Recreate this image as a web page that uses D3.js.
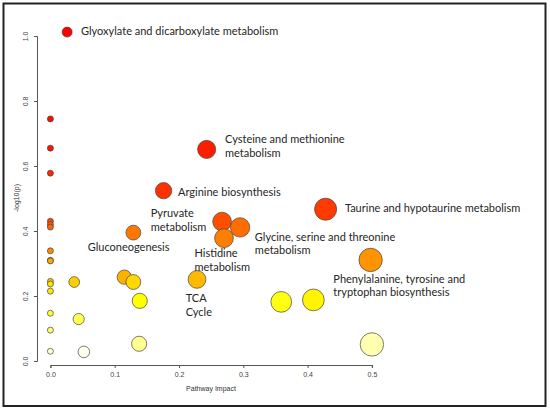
<!DOCTYPE html>
<html>
<head>
<meta charset="utf-8">
<script src="https://cdn.jsdelivr.net/npm/d3@7"></script>
<style>
  body { margin: 0; background: #fff; }
  .lbl { font-family: Lato, "Open Sans", sans-serif; font-size: 11px; fill: #262626; }
  .tick text { font-family: "Liberation Sans", Arial, sans-serif; font-size: 7px; fill: #444; }
  .axis path, .axis line { stroke: #555; }
</style>
</head>
<body>
<div id="chart"></div>
<script>
// Pathway impact (x) and -log10(p) (y)
var impact = [0.026, 0, 0, 0.243, 0, 0.176, 0.428, 0, 0.267, 0, 0, 0.295, 0.129, 0.270,
    0, 0.498, 0, 0, 0.115, 0.228, 0, 0.037, 0.129, 0, 0, 0.409, 0.139, 0.359,
    0, 0.044, 0, 0.138, 0.5, 0, 0.052];
var logp = [1.012, 0.745, 0.655, 0.651, 0.578, 0.524, 0.467, 0.430, 0.429, 0.420, 0.412, 0.411, 0.395, 0.378,
    0.339, 0.311, 0.310, 0.308, 0.258, 0.251, 0.245, 0.243, 0.243, 0.237, 0.215, 0.188, 0.185, 0.182,
    0.147, 0.129, 0.095, 0.053, 0.051, 0.030, 0.028];

var xTicks = [0, 0.1, 0.2, 0.3, 0.4, 0.5];
var yTicks = [0, 0.2, 0.4, 0.6, 0.8, 1.0];

// Annotations: text lines and anchor (in data units)
var labelLines = [
    ["Glyoxylate and dicarboxylate metabolism"],
    ["Cysteine and methionine", "metabolism"],
    ["Arginine biosynthesis"],
    ["Pyruvate", "metabolism"],
    ["Gluconeogenesis"],
    ["Histidine", "metabolism"],
    ["Glycine, serine and threonine", "metabolism"],
    ["Taurine and hypotaurine metabolism"],
    ["TCA", "Cycle"],
    ["Phenylalanine, tyrosine and", "tryptophan biosynthesis"]
];
var labelAt = [
    [0.0476, 1.003], [0.2715, 0.670], [0.1985, 0.508], [0.156, 0.442], [0.058, 0.338],
    [0.224, 0.319], [0.318, 0.370], [0.458, 0.459], [0.2104, 0.181], [0.440, 0.241]
];

var svgWidth = 550;
var svgHeight = 410;

var svg = d3.select("#chart")
    .append("svg")
    .attr("width", svgWidth)
    .attr("height", svgHeight);

// Outer frame
svg.append("rect")
    .attr("x", 3.5).attr("y", 3.5)
    .attr("width", 542).attr("height", 402.5)
    .attr("fill", "none")
    .attr("stroke", "#222")
    .attr("stroke-width", 2);

// Scales
var xScale = d3.scaleLinear().domain([0, 0.5]).range([50.4, 371.9]);
var yScale = d3.scaleLinear().domain([0, 1]).range([361, 36]);
// circle size grows with sqrt of impact, from a minimum size
var rScale = d3.scaleLinear().domain([0, Math.sqrt(0.5)]).range([3, 11.7]);

// R heat.colors by rank
var n = logp.length;
var j = Math.floor(n / 4);
var i = n - j;
var hot = d3.scaleLinear().domain([0, i - 1]).range(["#ff0000", "#ffff00"]);
var pale = d3.scaleLinear().domain([i, n - 1])
    .range([d3.rgb(255, 255, 255 / (2 * j)), d3.rgb(255, 255, 255 * (1 - 1 / (2 * j)))]);
var order = d3.range(n).sort((a, b) => logp[b] - logp[a]);
var rank = [];
order.forEach((k, r) => rank[k] = r);
function heat(k) { return rank[k] < i ? hot(rank[k]) : pale(rank[k]); }

// Axes
var xAxis = svg.append("g")
    .attr("class", "axis")
    .attr("transform", "translate(0, 365)")
    .call(d3.axisBottom(xScale).tickValues(xTicks).tickFormat(d3.format(".1f")).tickSizeOuter(0).tickSize(3).tickPadding(4));

var yAxis = svg.append("g")
    .attr("class", "axis")
    .attr("transform", "translate(37, 0)")
    .call(d3.axisLeft(yScale).tickValues(yTicks).tickFormat(d3.format(".1f")).tickSizeOuter(0).tickSize(3));

yAxis.selectAll(".tick text")
    .attr("x", 0).attr("dy", 0)
    .attr("text-anchor", "middle")
    .attr("transform", "translate(-9, 0) rotate(-90)");

// Axis titles
svg.append("text")
    .attr("x", 211).attr("y", 391)
    .attr("text-anchor", "middle")
    .style("font-family", "Liberation Sans, Arial, sans-serif")
    .style("font-size", "7px")
    .attr("fill", "#333")
    .text("Pathway Impact");

svg.append("text")
    .attr("transform", "translate(19, 198) rotate(-90)")
    .attr("text-anchor", "middle")
    .style("font-family", "Liberation Sans, Arial, sans-serif")
    .style("font-size", "7px")
    .attr("fill", "#333")
    .text("-log10(p)");

// Circles, drawn from most to least significant
svg.append("g").selectAll("circle")
    .data(order)
    .enter()
    .append("circle")
    .attr("cx", k => xScale(impact[k]))
    .attr("cy", k => yScale(logp[k]))
    .attr("r", k => rScale(Math.sqrt(impact[k])))
    .attr("fill", k => heat(k))
    .attr("stroke", "#444")
    .attr("stroke-width", 0.7);

// Labels
var labels = svg.append("g").selectAll("text")
    .data(labelLines)
    .enter()
    .append("text")
    .attr("class", "lbl")
    .attr("x", (d, k) => xScale(labelAt[k][0]))
    .attr("y", (d, k) => yScale(labelAt[k][1]));

labels.selectAll("tspan")
    .data(d => d)
    .enter()
    .append("tspan")
    .attr("x", function() { return d3.select(this.parentNode).attr("x"); })
    .attr("dy", (d, k) => k === 0 ? 0 : 13.5)
    .text(d => d);
</script>
</body>
</html>
